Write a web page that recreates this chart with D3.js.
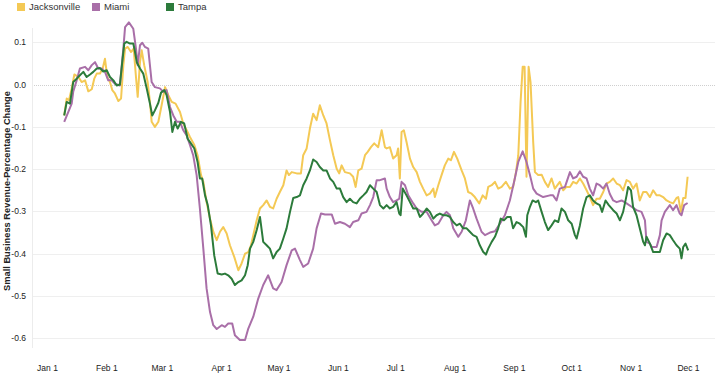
<!DOCTYPE html>
<html>
<head>
<meta charset="utf-8">
<script src="https://cdn.jsdelivr.net/npm/d3@7"></script>
<style>
  body { margin: 0; background: #fff; }
  svg { display: block; font-family: "Liberation Sans", Arial, sans-serif; }
</style>
</head>
<body>
<svg width="720" height="374"></svg>
<script>
// values: [days since Jan 1 2020, revenue change]
const jacksonville = [
  [9.0,-0.073],[10.3,-0.033],[11.5,-0.037],[12.9,-0.009],[14.3,0.024],[16.4,0.018],[18.1,0.006],[19.9,0.010],
  [21.6,-0.016],[23.4,-0.011],[24.7,0.014],[26.0,0.026],[27.7,0.026],[29.1,0.038],[30.3,0.061],[31.5,0.018],
  [32.9,0.006],[34.1,-0.013],[35.5,-0.021],[37.3,-0.039],[38.7,-0.033],[39.9,0.046],[40.8,0.085],[42.2,0.089],
  [43.9,0.077],[45.3,0.085],[46.5,0.018],[47.4,-0.029],[48.6,0.053],[49.5,0.081],[50.8,0.046],[52.6,0.006],
  [53.8,-0.041],[54.7,-0.088],[56.4,-0.100],[58.2,-0.088],[59.9,-0.049],[61.7,-0.006],[63.4,-0.025],[65.2,-0.041],
  [67.2,-0.045],[69.5,-0.065],[71.2,-0.092],[73.0,-0.108],[74.7,-0.124],[77.0,-0.143],[78.7,-0.167],[80.5,-0.214],
  [81.7,-0.230],[83.4,-0.278],[85.2,-0.317],[86.9,-0.348],[88.7,-0.368],[90.4,-0.348],[92.1,-0.337],[93.9,-0.352],
  [95.6,-0.380],[97.9,-0.408],[100.0,-0.439],[101.7,-0.423],[103.5,-0.400],[105.2,-0.396],[106.6,-0.380],[107.8,-0.356],
  [109.6,-0.321],[111.3,-0.293],[113.0,-0.285],[114.8,-0.274],[116.5,-0.289],[118.2,-0.293],[120.0,-0.270],[121.7,-0.254],
  [123.5,-0.238],[125.2,-0.203],[126.4,-0.214],[127.9,-0.207],[130.5,-0.210],[132.7,-0.210],[133.9,-0.167],[135.7,-0.151],
  [137.4,-0.104],[139.1,-0.069],[140.9,-0.084],[142.6,-0.049],[144.4,-0.073],[146.1,-0.092],[147.9,-0.132],[149.6,-0.167],
  [151.4,-0.199],[152.7,-0.210],[154.0,-0.191],[155.7,-0.207],[158.3,-0.210],[160.0,-0.218],[161.3,-0.242],[162.7,-0.203],
  [164.4,-0.199],[166.2,-0.167],[167.6,-0.159],[169.3,-0.148],[171.0,-0.139],[173.1,-0.148],[174.9,-0.108],[176.6,-0.148],
  [177.5,-0.151],[179.2,-0.148],[180.9,-0.175],[182.7,-0.167],[183.5,-0.151],[184.4,-0.222],[185.3,-0.112],[186.5,-0.108],
  [187.9,-0.136],[189.7,-0.175],[191.4,-0.195],[193.2,-0.207],[194.9,-0.230],[196.6,-0.246],[198.4,-0.262],[200.1,-0.258],
  [201.9,-0.246],[202.7,-0.266],[204.5,-0.238],[206.2,-0.214],[207.9,-0.191],[209.7,-0.175],[211.1,-0.179],[212.7,-0.159],
  [214.4,-0.175],[216.7,-0.203],[218.4,-0.222],[220.1,-0.254],[221.9,-0.258],[223.6,-0.266],[225.9,-0.281],[227.7,-0.262],
  [229.4,-0.270],[230.6,-0.242],[232.4,-0.238],[234.1,-0.230],[235.8,-0.246],[237.6,-0.242],[239.8,-0.230],[241.9,-0.246],
  [243.6,-0.242],[245.1,-0.207],[246.3,-0.167],[247.5,-0.041],[248.6,0.042],[249.6,0.042],[250.6,-0.218],[251.7,0.042],
  [252.7,0.006],[254.1,-0.136],[255.0,-0.207],[256.7,-0.214],[258.5,-0.213],[260.2,-0.230],[261.9,-0.242],[263.7,-0.222],
  [265.4,-0.246],[268.0,-0.230],[269.8,-0.250],[271.5,-0.242],[273.3,-0.242],[275.0,-0.230],[276.8,-0.234],[278.5,-0.222],
  [280.2,-0.234],[282.0,-0.250],[283.7,-0.266],[285.4,-0.285],[287.2,-0.270],[288.9,-0.270],[290.7,-0.254],[292.4,-0.234],
  [294.1,-0.230],[295.9,-0.222],[297.7,-0.234],[299.4,-0.238],[301.1,-0.250],[302.9,-0.226],[304.6,-0.230],[306.3,-0.246],
  [308.1,-0.234],[309.8,-0.274],[311.6,-0.254],[313.3,-0.254],[315.1,-0.266],[316.8,-0.250],[318.6,-0.262],[320.3,-0.262],
  [322.0,-0.266],[323.8,-0.274],[325.5,-0.278],[327.2,-0.281],[329.0,-0.268],[329.9,-0.266],[331.3,-0.301],[332.5,-0.268],
  [333.7,-0.268],[334.8,-0.218]
];

const miami = [
  [9.0,-0.088],[11.1,-0.065],[12.9,-0.045],[13.7,-0.017],[15.5,0.010],[17.2,0.038],[19.9,0.042],[21.6,0.034],
  [23.4,0.046],[25.1,0.053],[26.8,0.038],[28.6,0.038],[30.3,0.030],[32.0,0.010],[33.8,0.010],[35.5,0.002],
  [38.1,-0.002],[39.9,0.085],[40.8,0.136],[42.8,0.147],[45.1,0.132],[46.5,0.085],[47.4,0.046],[48.6,0.093],
  [49.8,0.099],[51.2,0.089],[52.9,0.085],[54.7,0.006],[56.4,-0.006],[59.0,-0.009],[60.8,-0.017],[62.5,-0.013],
  [64.3,-0.053],[66.0,-0.073],[67.8,-0.088],[69.5,-0.088],[71.2,-0.108],[73.0,-0.120],[74.7,-0.143],[76.4,-0.167],
  [78.2,-0.214],[79.9,-0.293],[81.7,-0.388],[83.4,-0.482],[85.2,-0.538],[86.9,-0.569],[88.7,-0.578],[91.3,-0.569],
  [93.0,-0.573],[94.7,-0.565],[96.8,-0.565],[98.2,-0.593],[100.8,-0.604],[103.5,-0.604],[105.2,-0.577],[107.8,-0.549],
  [110.4,-0.506],[113.0,-0.474],[115.6,-0.451],[118.2,-0.482],[120.0,-0.486],[122.6,-0.467],[125.2,-0.427],[127.9,-0.392],
  [129.6,-0.388],[132.2,-0.415],[133.9,-0.431],[136.5,-0.423],[139.1,-0.388],[140.9,-0.340],[143.2,-0.305],[145.3,-0.307],
  [148.8,-0.307],[150.5,-0.329],[153.1,-0.325],[155.7,-0.329],[158.3,-0.337],[160.0,-0.325],[162.7,-0.321],[164.4,-0.305],
  [167.0,-0.301],[168.8,-0.285],[170.5,-0.266],[172.3,-0.226],[174.0,-0.226],[176.6,-0.222],[177.5,-0.246],[179.2,-0.266],
  [180.9,-0.278],[182.7,-0.274],[184.1,-0.270],[185.3,-0.230],[187.1,-0.238],[188.8,-0.262],[191.4,-0.281],[193.2,-0.293],
  [195.8,-0.301],[198.4,-0.301],[201.0,-0.321],[202.7,-0.333],[204.5,-0.329],[207.1,-0.309],[208.8,-0.301],[210.6,-0.309],
  [212.3,-0.340],[214.9,-0.360],[216.7,-0.348],[218.9,-0.321],[221.0,-0.274],[222.7,-0.293],[224.5,-0.317],[227.1,-0.348],
  [228.9,-0.356],[231.5,-0.350],[234.1,-0.347],[236.7,-0.329],[239.3,-0.309],[241.9,-0.274],[244.5,-0.222],[246.3,-0.183],
  [248.6,-0.158],[250.6,-0.183],[252.4,-0.214],[254.1,-0.246],[255.9,-0.258],[257.6,-0.262],[259.3,-0.266],[262.8,-0.262],
  [264.5,-0.262],[266.3,-0.274],[268.0,-0.246],[270.7,-0.242],[273.3,-0.207],[275.0,-0.222],[276.8,-0.218],[278.5,-0.205],
  [280.2,-0.218],[282.0,-0.222],[283.7,-0.246],[285.4,-0.262],[287.2,-0.234],[288.9,-0.238],[290.7,-0.246],[292.4,-0.234],
  [294.1,-0.258],[295.9,-0.274],[297.7,-0.278],[300.3,-0.274],[302.9,-0.281],[305.5,-0.289],[308.1,-0.297],[310.7,-0.301],
  [312.5,-0.321],[313.3,-0.372],[315.1,-0.376],[316.0,-0.384],[318.6,-0.384],[320.3,-0.356],[321.2,-0.321],[322.9,-0.301],
  [325.5,-0.285],[327.2,-0.297],[329.0,-0.285],[330.7,-0.305],[331.6,-0.309],[333.0,-0.285],[334.8,-0.280]
];

const tampa = [
  [9.0,-0.073],[10.3,-0.041],[12.0,-0.045],[13.7,0.006],[15.5,0.014],[17.2,0.022],[19.0,0.030],[20.7,0.018],
  [22.5,0.024],[24.2,0.030],[26.0,0.038],[27.7,0.039],[29.4,0.031],[31.2,0.034],[32.9,0.018],[34.7,0.010],
  [36.4,-0.002],[38.1,0.000],[39.5,0.061],[40.4,0.097],[41.6,0.101],[43.4,0.097],[45.1,0.097],[46.0,0.077],
  [46.9,0.053],[48.6,0.038],[50.3,0.026],[52.1,-0.009],[53.8,-0.045],[55.0,-0.073],[56.4,-0.061],[58.2,-0.043],
  [59.6,-0.019],[61.3,-0.013],[62.5,-0.025],[64.3,-0.065],[65.5,-0.112],[66.9,-0.088],[68.3,-0.104],[70.0,-0.088],
  [71.7,-0.092],[73.5,-0.128],[75.2,-0.139],[77.0,-0.151],[78.7,-0.183],[79.9,-0.222],[81.1,-0.222],[82.6,-0.262],
  [84.0,-0.285],[85.7,-0.333],[87.4,-0.404],[89.2,-0.447],[91.3,-0.449],[93.0,-0.447],[94.7,-0.451],[96.5,-0.459],
  [98.2,-0.474],[100.0,-0.467],[101.7,-0.463],[103.5,-0.451],[104.9,-0.427],[106.1,-0.388],[107.8,-0.372],[109.6,-0.344],
  [111.3,-0.313],[113.0,-0.372],[114.8,-0.380],[116.5,-0.388],[118.2,-0.411],[120.0,-0.396],[121.7,-0.388],[123.5,-0.364],
  [125.2,-0.340],[127.0,-0.301],[128.7,-0.268],[130.5,-0.266],[132.2,-0.262],[133.9,-0.238],[135.7,-0.222],[137.4,-0.203],
  [139.1,-0.177],[140.9,-0.183],[142.6,-0.195],[144.4,-0.203],[146.1,-0.203],[147.9,-0.222],[149.6,-0.230],[151.4,-0.246],
  [153.1,-0.246],[154.8,-0.266],[156.6,-0.278],[158.3,-0.270],[160.0,-0.278],[161.8,-0.281],[163.5,-0.270],[165.3,-0.262],
  [167.0,-0.254],[168.8,-0.238],[170.5,-0.246],[172.3,-0.254],[174.0,-0.285],[175.8,-0.293],[177.5,-0.285],[179.2,-0.293],
  [180.9,-0.289],[182.7,-0.278],[184.1,-0.305],[184.8,-0.309],[185.9,-0.246],[187.9,-0.262],[189.7,-0.278],[191.4,-0.293],
  [193.2,-0.293],[194.9,-0.313],[196.6,-0.305],[198.4,-0.293],[200.1,-0.301],[201.9,-0.317],[203.6,-0.309],[205.3,-0.305],
  [207.1,-0.309],[208.8,-0.309],[210.6,-0.313],[212.3,-0.325],[214.1,-0.333],[215.8,-0.329],[217.5,-0.340],[219.3,-0.340],
  [221.0,-0.348],[222.7,-0.356],[224.5,-0.360],[226.2,-0.380],[228.0,-0.396],[229.4,-0.402],[230.6,-0.388],[232.4,-0.372],
  [234.1,-0.360],[235.8,-0.340],[237.1,-0.317],[238.8,-0.321],[240.5,-0.313],[242.3,-0.313],[243.6,-0.340],[245.4,-0.325],
  [247.1,-0.329],[248.9,-0.337],[250.3,-0.360],[251.0,-0.309],[252.4,-0.289],[253.8,-0.274],[255.5,-0.278],[256.7,-0.274],
  [258.5,-0.301],[260.2,-0.325],[261.9,-0.344],[263.7,-0.333],[265.4,-0.321],[267.2,-0.325],[268.9,-0.293],[270.7,-0.301],
  [272.4,-0.321],[274.2,-0.329],[275.9,-0.356],[276.8,-0.364],[278.5,-0.333],[280.2,-0.293],[282.0,-0.266],[283.7,-0.262],
  [285.4,-0.274],[287.2,-0.281],[288.9,-0.285],[290.1,-0.301],[291.9,-0.274],[293.6,-0.285],[295.9,-0.297],[297.7,-0.305],
  [299.4,-0.321],[301.1,-0.301],[302.9,-0.262],[303.7,-0.242],[305.2,-0.250],[306.3,-0.289],[308.1,-0.309],[309.8,-0.340],
  [311.6,-0.372],[312.5,-0.380],[313.3,-0.360],[315.1,-0.376],[316.8,-0.396],[318.6,-0.396],[320.3,-0.396],[322.0,-0.368],
  [323.8,-0.352],[325.5,-0.356],[327.2,-0.368],[329.0,-0.380],[330.7,-0.388],[331.6,-0.411],[332.5,-0.384],[333.7,-0.376],
  [335.1,-0.392]
];

const cities = ["Jacksonville", "Miami", "Tampa"];
const cityColors = ["#f4c955", "#a96fa8", "#2c7b3b"];
const yTicks = [0.1, 0.0, -0.1, -0.2, -0.3, -0.4, -0.5, -0.6];

const series = [jacksonville, miami, tampa];
const startDate = new Date(2020, 0, 1);
const toDate = d => new Date(startDate.getTime() + d * 86400000);

const svg = d3.select("svg");

const x = d3.scaleTime()
    .domain([startDate, new Date(2020, 11, 1)])
    .range([47, 688]);

const y = d3.scaleLinear()
    .domain([-0.6, 0.1])
    .range([338.3, 42.3]);

const gridLeft = 32;
const gridRight = 715;

// gridlines
svg.append("g")
    .selectAll("line")
    .data(yTicks)
    .enter()
    .append("line")
    .attr("x1", gridLeft)
    .attr("x2", gridRight)
    .attr("y1", d => Math.round(y(d)) + 0.5)
    .attr("y2", d => Math.round(y(d)) + 0.5)
    .attr("stroke", d => d === 0 ? "#cfcfcf" : "#efefef")
    .attr("stroke-dasharray", d => d === 0 ? "1,1" : null)
    .attr("stroke-width", 1);

// left axis rule
svg.append("line")
    .attr("x1", gridLeft + 0.5)
    .attr("x2", gridLeft + 0.5)
    .attr("y1", 28)
    .attr("y2", 348)
    .attr("stroke", "#ececec");

// y tick labels (plain hyphen for negatives, like the original)
const fmt = d3.format(".1f");
svg.append("g")
    .selectAll("text")
    .data(yTicks)
    .enter()
    .append("text")
    .attr("x", 26)
    .attr("y", d => y(d))
    .attr("dy", "0.35em")
    .attr("text-anchor", "end")
    .style("font-size", "8.5px")
    .style("fill", "#222")
    .text(d => fmt(d).replace("\u2212", "-"));

// x axis
const xAxis = svg.append("g")
    .attr("transform", "translate(0,368)")
    .call(d3.axisBottom(x)
        .ticks(d3.timeMonth.every(1))
        .tickSize(0)
        .tickFormat(d3.timeFormat("%b %-d")));

xAxis.select(".domain").remove();
xAxis.selectAll("text")
    .attr("y", 0)
    .attr("dy", "0.35em")
    .style("font-family", "'Liberation Sans', Arial, sans-serif")
    .style("font-size", "8.5px")
    .style("fill", "#222");

// y axis title
svg.append("text")
    .attr("transform", "translate(7,191) rotate(-90)")
    .attr("text-anchor", "middle")
    .attr("dy", "0.35em")
    .style("font-size", "9.3px")
    .style("font-weight", 700)
    .style("fill", "#222")
    .text("Small Business Revenue-Percentage Change");

// lines
const line = d3.line()
    .x(d => x(toDate(d[0])))
    .y(d => y(d[1]));

svg.append("g")
    .selectAll("path")
    .data(series)
    .enter()
    .append("path")
    .attr("d", line)
    .attr("fill", "none")
    .attr("stroke", (d, i) => cityColors[i])
    .attr("stroke-width", 2)
    .attr("stroke-linejoin", "round");

// legend
const legendX = [17, 92, 166];
const legend = svg.append("g")
    .selectAll("g")
    .data(cities)
    .enter()
    .append("g")
    .attr("transform", (d, i) => `translate(${legendX[i]},3)`);

legend.append("rect")
    .attr("width", 8)
    .attr("height", 8)
    .attr("fill", (d, i) => cityColors[i]);

legend.append("text")
    .attr("x", 12)
    .attr("y", 4)
    .attr("dy", "0.35em")
    .style("font-size", "9.5px")
    .style("fill", "#333")
    .text(d => d);
</script>
</body>
</html>
